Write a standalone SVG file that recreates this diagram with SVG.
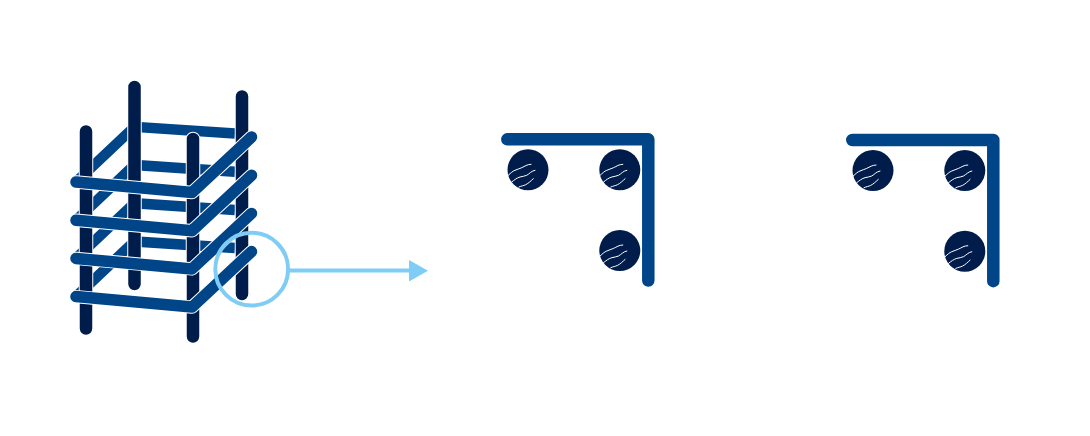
<svg xmlns="http://www.w3.org/2000/svg" xmlns:xlink="http://www.w3.org/1999/xlink" width="1090" height="436" viewBox="0 0 1090 436">
<style>
.halo{fill:none;stroke:#fff;stroke-linecap:round;stroke-linejoin:round}
.bar{fill:none;stroke:#001c4a;stroke-width:12.5;stroke-linecap:round}
.barh{stroke-width:14.500}
.ring{fill:none;stroke:#004587;stroke-width:11.500;stroke-linecap:round;stroke-linejoin:round}
.ringh{stroke-width:13.500}
.back{fill:none;stroke:#004587;stroke-width:10.500;stroke-linejoin:miter}
.stir{fill:none;stroke:#004587;stroke-width:12.500;stroke-linecap:round;stroke-linejoin:round}
.wire{fill:none;stroke:#fff;stroke-width:1;stroke-linecap:round}
.sky{fill:none;stroke:#7fcdf5}
</style>
<defs>
<g id="rebar">
<circle r="20.500" fill="#001c4a"/>
<path class="wire" d="M-19.700 5.500C-17 3-15.500 1.500-13 .5C-10.500 -.5-9 -1-6.300 -2.100C-3 -3.500-1 -5.500 3 -5.500"/>
<path class="wire" d="M-16.300 12.200C-13.500 10-11 8-8 7.200C-5.500 6.500-3.500 6.500-1.300 5.500C1.500 4 3.500 1 7 .5"/>
<path class="wire" d="M-9 17.200C-6.500 16-4.500 16-2.300 14.900C.5 13.500 3 11 5.300 8.900"/>
</g>
<g id="section">
<path class="stir" d="M507.300 139.300H648.300V280.500"/>
<use xlink:href="#rebar" href="#rebar" x="528" y="169.800"/>
<use xlink:href="#rebar" href="#rebar" x="619.800" y="169.800"/>
<use xlink:href="#rebar" href="#rebar" x="619.800" y="250.500"/>
</g>
<path id="backring" class="back" d="M76 182L134.500 126.800L235 133.500"/>
<path id="fronthalo" class="halo ringh" d="M76 182L192 192.500L251.500 137"/>
<path id="frontring" class="ring" d="M76 182L192 192.500L251.500 137"/>
</defs>
<g id="cage">
<use xlink:href="#backring" href="#backring"/>
<use xlink:href="#backring" href="#backring" y="38.200"/>
<use xlink:href="#backring" href="#backring" y="76.400"/>
<use xlink:href="#backring" href="#backring" y="114.600"/>
<path class="halo barh" d="M134.500 87V284M242 96.500V294M86 131.500V328.500M193 139V336.500"/>
<path class="bar" d="M134.500 87V284M242 96.500V294M86 131.500V328.500M193 139V336.500"/>
<use xlink:href="#fronthalo" href="#fronthalo"/>
<use xlink:href="#frontring" href="#frontring"/>
<use xlink:href="#fronthalo" href="#fronthalo" y="38.200"/>
<use xlink:href="#frontring" href="#frontring" y="38.200"/>
<use xlink:href="#fronthalo" href="#fronthalo" y="76.400"/>
<use xlink:href="#frontring" href="#frontring" y="76.400"/>
<use xlink:href="#fronthalo" href="#fronthalo" y="114.600"/>
<use xlink:href="#frontring" href="#frontring" y="114.600"/>
</g>
<g id="detail-circle">
<circle class="sky" cx="251.700" cy="269.200" r="36.400" stroke-width="4"/>
</g>
<g id="connectors">
<path class="sky" stroke-width="4" d="M289 270.400H412"/>
<path fill="#7fcdf5" d="M409 260L428 270.700L409 281.500Z"/>
</g>
<g id="section-1"><use xlink:href="#section" href="#section"/></g>
<g id="section-2"><use xlink:href="#section" href="#section" x="345" y="0.700"/></g>
</svg>
